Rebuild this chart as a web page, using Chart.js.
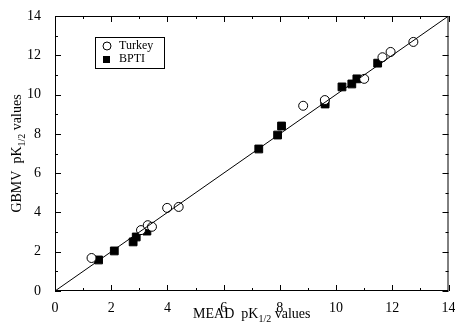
<!DOCTYPE html>
<html>
<head>
<meta charset="utf-8">
<script src="https://cdn.jsdelivr.net/npm/chart.js@4/dist/chart.umd.min.js"></script>
<style>
  html, body { margin: 0; padding: 0; background: #fff; }
  #wrap { width: 455px; height: 323px; }
</style>
</head>
<body>
<div id="wrap"><canvas id="scatter"></canvas></div>
<script>
// MEAD vs GBMV pK1/2 values
const turkeyX = [1.3, 3.06, 3.3, 3.45, 3.99, 4.4, 8.83, 9.6, 11.0, 11.65, 11.94, 12.75];
const turkeyY = [1.68, 3.1, 3.35, 3.27, 4.23, 4.28, 9.43, 9.72, 10.8, 11.9, 12.17, 12.68];
const bptiX = [1.55, 2.11, 2.78, 2.89, 3.27, 7.25, 7.92, 8.06, 9.61, 9.6, 10.21, 10.56, 10.74, 11.48];
const bptiY = [1.58, 2.04, 2.5, 2.75, 3.05, 7.23, 7.94, 8.4, 9.52, 9.62, 10.39, 10.54, 10.8, 11.6];
const diagonal = [0, 14];
const legendLabels = ['Turkey', 'BPTI'];

const serif = '"Liberation Serif", "DejaVu Serif", serif';

function toPoints(xs, ys) {
    return xs.map((x, i) => ({x: x, y: ys[i]}));
}

// axis titles with a subscript part
function drawSubTitle(ctx, parts, x, y, rotate) {
    ctx.save();
    ctx.translate(x, y);
    if (rotate) ctx.rotate(-Math.PI / 2);
    let total = 0;
    parts.forEach(p => {
        ctx.font = (p.sub ? '10px ' : '14px ') + serif;
        total += ctx.measureText(p.t).width;
    });
    let cx = -total / 2;
    ctx.fillStyle = '#000';
    ctx.textBaseline = 'alphabetic';
    ctx.textAlign = 'left';
    parts.forEach(p => {
        ctx.font = (p.sub ? '10px ' : '14px ') + serif;
        ctx.fillText(p.t, cx, p.sub ? 4 : 0);
        cx += ctx.measureText(p.t).width;
    });
    ctx.restore();
}

const frame = {
    id: 'frame',
    afterDraw(chart) {
        const ctx = chart.ctx;
        const a = chart.chartArea;
        const xs = chart.scales.x, ys = chart.scales.y;
        ctx.save();
        ctx.strokeStyle = '#000';
        ctx.lineWidth = 1;
        ctx.strokeRect(a.left + 0.5, a.top + 0.5, a.right - a.left - 1, a.bottom - a.top - 1);
        ctx.beginPath();
        for (let v = 0; v <= 14; v++) {
            const len = v % 2 === 0 ? 6 : 3;
            const px = Math.round(xs.getPixelForValue(v)) + 0.5;
            ctx.moveTo(px, a.bottom); ctx.lineTo(px, a.bottom - len);
            ctx.moveTo(px, a.top); ctx.lineTo(px, a.top + len);
            const py = Math.round(ys.getPixelForValue(v)) + 0.5;
            ctx.moveTo(a.left, py); ctx.lineTo(a.left + len, py);
            ctx.moveTo(a.right, py); ctx.lineTo(a.right - len, py);
        }
        ctx.stroke();

        // legend box
        const lx = 95, ly = 37, lw = 69, lh = 31;
        ctx.fillStyle = '#fff';
        ctx.fillRect(lx, ly, lw, lh);
        ctx.strokeRect(lx + 0.5, ly + 0.5, lw, lh);
        ctx.beginPath();
        ctx.arc(lx + 12, ly + 9, 4, 0, Math.PI * 2);
        ctx.stroke();
        ctx.fillStyle = '#000';
        ctx.fillRect(lx + 8, ly + 19, 7, 7);
        ctx.font = '12px ' + serif;
        ctx.textBaseline = 'middle';
        ctx.fillText(legendLabels[0], lx + 24, ly + 9);
        ctx.fillText(legendLabels[1], lx + 24, ly + 22);
        ctx.restore();

        drawSubTitle(ctx, [{t: 'MEAD  pK'}, {t: '1/2', sub: true}, {t: ' values'}], (a.left + a.right) / 2, 318, false);
        drawSubTitle(ctx, [{t: 'GBMV  pK'}, {t: '1/2', sub: true}, {t: ' values'}], 21, (a.top + a.bottom) / 2, true);
    }
};

new Chart(document.getElementById('scatter'), {
    type: 'scatter',
    data: {
        datasets: [
            {
                type: 'line',
                data: toPoints(diagonal, diagonal),
                borderColor: '#000',
                borderWidth: 1,
                pointRadius: 0,
                fill: false
            },
            {
                label: legendLabels[0],
                data: toPoints(turkeyX, turkeyY),
                pointStyle: 'circle',
                pointRadius: 4.5,
                backgroundColor: '#fff',
                borderColor: '#000',
                borderWidth: 1
            },
            {
                label: legendLabels[1],
                data: toPoints(bptiX, bptiY),
                pointStyle: 'rect',
                pointRadius: 5.5,
                backgroundColor: '#000',
                borderColor: '#000',
                borderWidth: 1
            }
        ]
    },
    options: {
        responsive: true,
        maintainAspectRatio: false,
        animation: false,
        layout: {padding: {top: 16, right: 3, left: 0, bottom: 0}},
        plugins: {legend: {display: false}, tooltip: {enabled: false}},
        scales: {
            x: {
                type: 'linear',
                min: 0, max: 14,
                grid: {display: false},
                border: {display: false},
                ticks: {stepSize: 2, color: '#000', padding: 1, maxRotation: 0, font: {family: serif, size: 14}},
                afterFit(s) { s.height = 32; s.paddingLeft = 0; s.paddingRight = 0; }
            },
            y: {
                type: 'linear',
                min: 0, max: 14,
                grid: {display: false},
                border: {display: false},
                ticks: {stepSize: 2, color: '#000', padding: 6, font: {family: serif, size: 14}},
                afterFit(s) { s.width = 55; s.paddingTop = 0; s.paddingBottom = 0; }
            }
        }
    },
    plugins: [frame]
});
</script>
</body>
</html>
